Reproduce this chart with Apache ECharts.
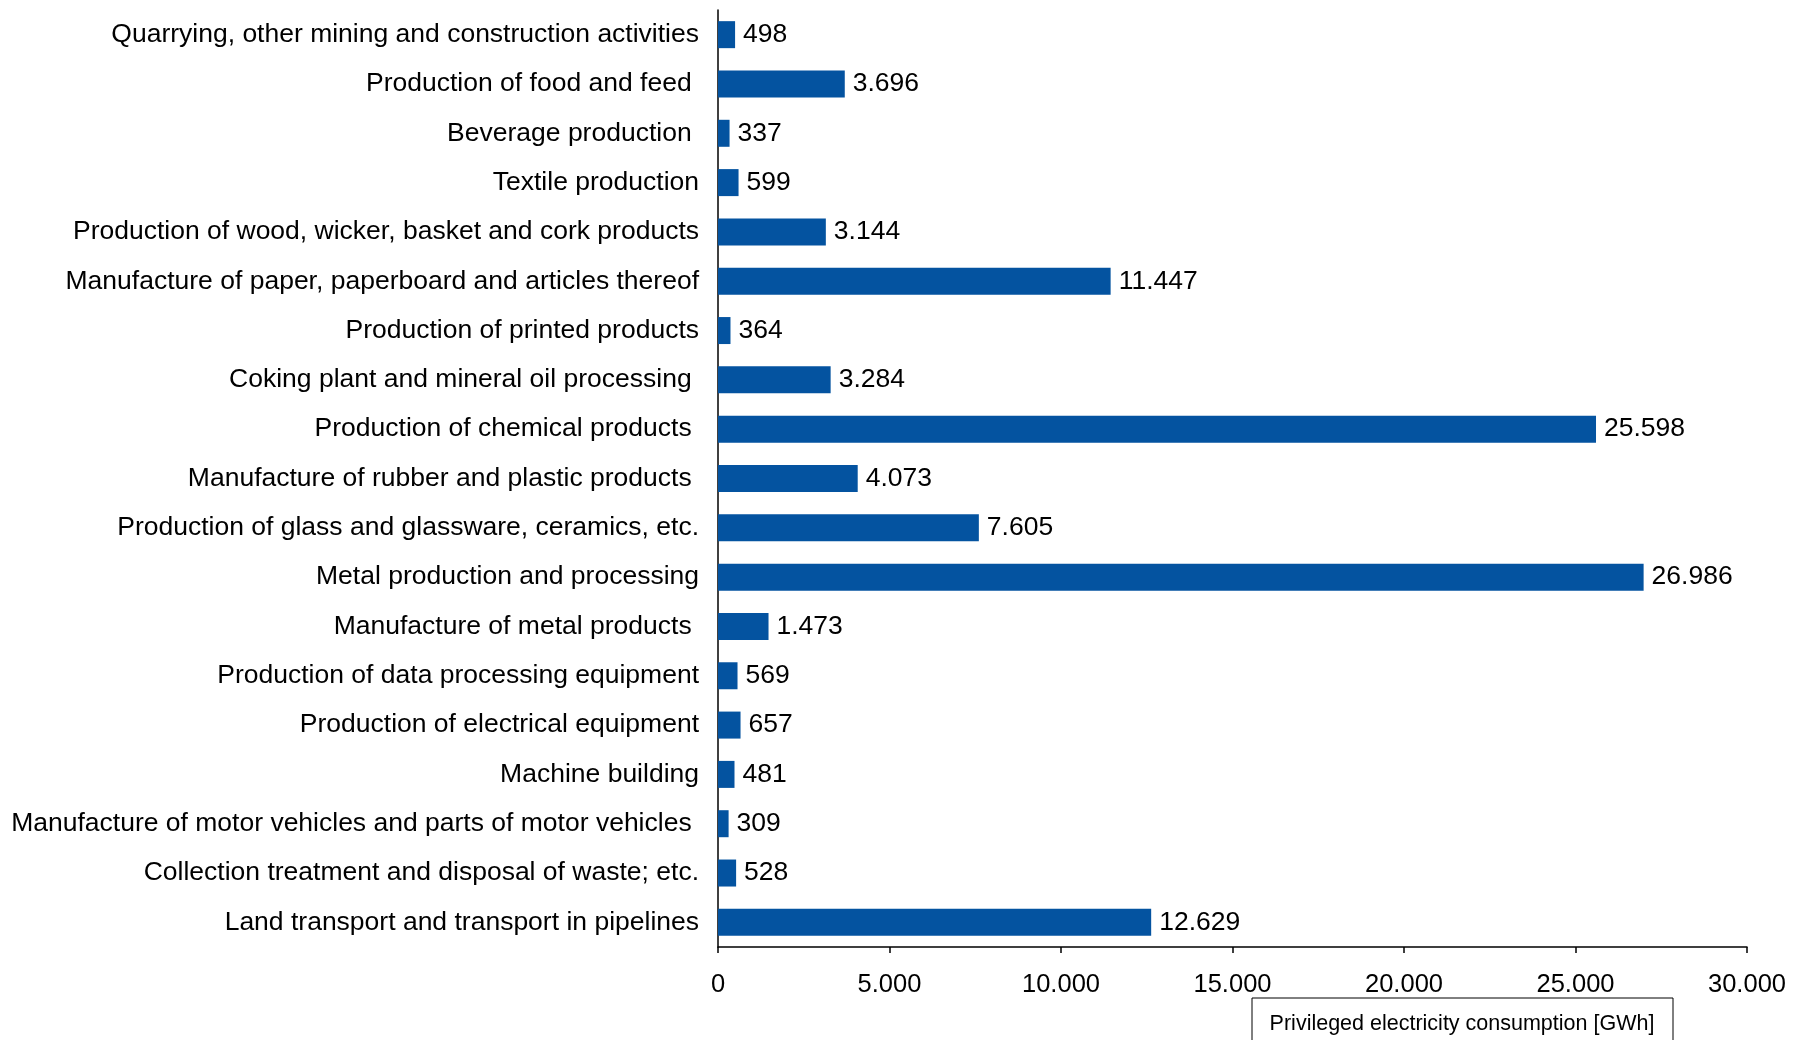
<!DOCTYPE html>
<html><head><meta charset="utf-8">
<script src="https://cdn.jsdelivr.net/npm/echarts@6/dist/echarts.min.js"></script>
<style>html,body{margin:0;padding:0;background:#fff}#c{width:1793px;height:1040px}</style>
</head><body><div id="c"></div>
<script>
var categories = [
  "Quarrying, other mining and construction activities",
  "Production of food and feed ",
  "Beverage production ",
  "Textile production",
  "Production of wood, wicker, basket and cork products",
  "Manufacture of paper, paperboard and articles thereof",
  "Production of printed products",
  "Coking plant and mineral oil processing ",
  "Production of chemical products ",
  "Manufacture of rubber and plastic products ",
  "Production of glass and glassware, ceramics, etc.",
  "Metal production and processing",
  "Manufacture of metal products ",
  "Production of data processing equipment",
  "Production of electrical equipment",
  "Machine building",
  "Manufacture of motor vehicles and parts of motor vehicles ",
  "Collection treatment and disposal of waste; etc.",
  "Land transport and transport in pipelines"
];
var values = [498, 3696, 337, 599, 3144, 11447, 364, 3284, 25598, 4073, 7605, 26986, 1473, 569, 657, 481, 309, 528, 12629];
var seriesName = "Privileged electricity consumption [GWh]";

function fmt(v){ return String(v).replace(/\B(?=(\d{3})+(?!\d))/g, '.'); }

var chart = echarts.init(document.getElementById('c'), null, {renderer:'canvas'});
chart.setOption({
  animation:false,
  textStyle:{fontFamily:'Liberation Sans, Arial, sans-serif'},
  grid:{left:718, right:46, top:10, bottom:93, containLabel:false},
  xAxis:{
    type:'value', min:0, max:30000, interval:5000,
    axisLine:{show:true, lineStyle:{color:'#000', width:1.5}},
    axisTick:{show:true, length:6, lineStyle:{color:'#000', width:1.5}},
    splitLine:{show:false},
    axisLabel:{color:'#000', fontSize:25.5, margin:25, formatter:fmt, fontFamily:'Liberation Sans'}
  },
  yAxis:{
    type:'category', data:categories, inverse:true,
    axisLine:{show:true, lineStyle:{color:'#000', width:1.5}},
    axisTick:{show:false},
    axisLabel:{color:'#000', fontSize:26.5, margin:19, fontFamily:'Liberation Sans'}
  },
  series:[{
    name:seriesName, type:'bar', data:values, barWidth:27,
    itemStyle:{color:'#0453a0'},
    label:{show:true, position:'right', distance:8, color:'#000', fontSize:26.5, fontFamily:'Liberation Sans',
      formatter:function(p){return fmt(p.value);}}
  }],
  graphic:[
    {type:'rect', shape:{x:1252, y:998, width:421, height:60}, style:{fill:'#fff', stroke:'#000', lineWidth:1}},
    {type:'text', x:1462, y:1024, style:{text:seriesName, fontSize:21.5, fontFamily:'Liberation Sans', fill:'#000', textAlign:'center', textVerticalAlign:'middle'}}
  ]
});
</script></body></html>
